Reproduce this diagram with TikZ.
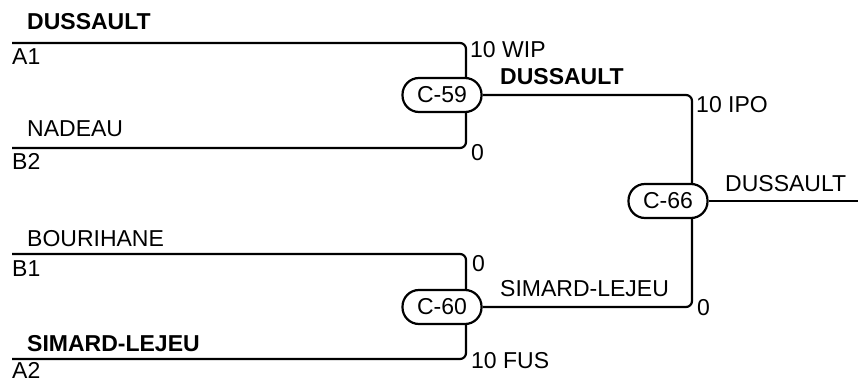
\documentclass[tikz,border=0pt]{standalone}
\usepackage{fontspec}
\setmainfont{Liberation Sans}
\usetikzlibrary{backgrounds}
\newcommand\fsz{\fontsize{23}{27}\selectfont}
\tikzset{
  wire/.style={line width=2.2pt, rounded corners=6pt},
  match/.style={draw, line width=2.2pt, rounded corners=16.5pt, minimum width=79pt, minimum height=34pt, fill=white, inner sep=0pt, font=\fsz},
  lbl/.style={inner sep=0pt, anchor=base west, font=\fsz},
  blbl/.style={lbl, font=\fsz\bfseries},
}
\begin{document}
\begin{tikzpicture}[x=1pt,y=-1pt]
\useasboundingbox (0,0) rectangle (858,379);
% match nodes
\node[match] (c59) at (442,95) {C-59};
\node[match] (c60) at (442,307) {C-60};
\node[match] (c66) at (668,201) {C-66};
% line ends and junctions
\coordinate (a1) at (12,43);
\coordinate (b2) at (12,148);
\coordinate (b1) at (12,254);
\coordinate (a2) at (12,359);
\coordinate (j59) at (466,95);
\coordinate (j60) at (466,307);
\coordinate (j66) at (692,201);
\coordinate (out) at (860,201);
\begin{scope}[on background layer]
\draw[wire] (a1) -| (j59);
\draw[wire] (b2) -| (j59);
\draw[wire] (b1) -| (j60);
\draw[wire] (a2) -| (j60);
\draw[wire] (c59.east) -| (j66);
\draw[wire] (c60.east) -| (j66);
\draw[wire] (c66.east) -- (out);
\end{scope}
% labels
\node[blbl] (t1) at (27,30) {DUSSAULT};
\node[lbl] (t2) at (12,65) {A1};
\node[lbl] (t3) at (27,137) {NADEAU};
\node[lbl] (t4) at (12,170) {B2};
\node[lbl] (t5) at (27,246) {BOURIHANE};
\node[lbl] (t6) at (12,276) {B1};
\node[blbl] (t7) at (27,351) {SIMARD-LEJEU};
\node[lbl] (t8) at (12,378) {A2};
\node[lbl] (s1) at (470,58) {10 WIP};
\node[lbl] (s2) at (471,161) {0};
\node[blbl] (s3) at (500,85) {DUSSAULT};
\node[lbl] (s4) at (696,113) {10 IPO};
\node[lbl] (s5) at (725,192) {DUSSAULT};
\node[lbl] (s6) at (472,271) {0};
\node[lbl] (s7) at (500,296) {SIMARD-LEJEU};
\node[lbl] (s8) at (697,315) {0};
\node[lbl] (s9) at (471,368) {10 FUS};
\end{tikzpicture}
\end{document}
